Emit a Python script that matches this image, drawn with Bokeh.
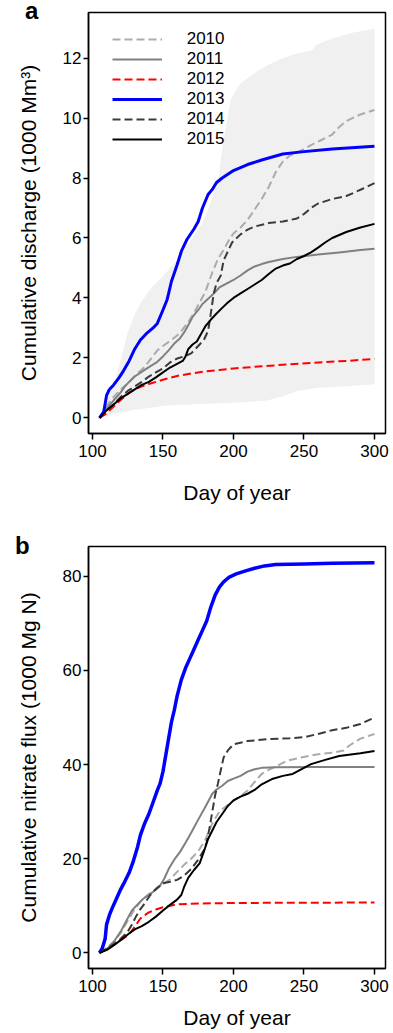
from bokeh.plotting import figure
from bokeh.models import Range1d, FixedTicker, Legend, LegendItem, Title
from bokeh.layouts import column
from bokeh.embed import file_html
from bokeh.resources import INLINE

FONT = "Liberation Sans"
YEARS = ["2010", "2011", "2012", "2013", "2014", "2015"]
X_TICKS = [100, 150, 200, 250, 300]
QA_TICKS = [0, 2, 4, 6, 8, 10, 12]
NB_TICKS = [0, 20, 40, 60, 80]

# ---- Panel a: cumulative discharge (1000 Mm3) ----
env_day = [105, 108, 112, 116, 120, 125, 130, 135, 142, 150, 155, 160, 165, 170, 175, 178, 182, 186, 189.5, 191, 193, 196, 198, 202, 205, 215, 224, 235, 245, 256, 259, 270, 285, 300]
env_upper = [0, 0.4, 0.85, 1.2, 1.95, 2.85, 3.45, 3.9, 4.35, 4.72, 5.0, 5.26, 5.6, 5.95, 6.3, 6.5, 6.95, 7.5, 8.0, 8.6, 9.25, 10.1, 10.6, 10.95, 11.15, 11.5, 11.76, 12.0, 12.15, 12.26, 12.45, 12.65, 12.85, 12.98]
env_lower = [0, 0.05, 0.1, 0.15, 0.18, 0.22, 0.27, 0.3, 0.35, 0.4, 0.42, 0.43, 0.44, 0.45, 0.46, 0.47, 0.47, 0.48, 0.48, 0.49, 0.49, 0.5, 0.5, 0.51, 0.52, 0.55, 0.58, 0.72, 0.9, 0.98, 1.0, 1.03, 1.07, 1.12]

q_day_2010 = [105, 110, 115, 120, 125, 130, 137, 142, 146, 150, 156, 160, 164, 168, 172, 176, 180, 185, 189, 193, 197, 200, 205, 210, 215, 220, 225, 230, 235, 240, 248, 255, 262, 270, 275, 280, 290, 300]
q_2010 = [0, 0.4, 0.7, 0.95, 1.15, 1.4, 1.7, 2.0, 2.25, 2.4, 2.6, 2.75, 2.95, 3.2, 3.5, 3.85, 4.2, 4.85, 5.3, 5.6, 5.95, 6.15, 6.35, 6.6, 6.95, 7.3, 7.7, 8.2, 8.55, 8.75, 8.92, 9.1, 9.26, 9.45, 9.7, 9.9, 10.12, 10.27]

q_day_2011 = [105, 110, 115, 120, 123, 126, 130, 137, 142, 146, 150, 154, 158, 162, 165, 168, 171, 175, 178, 182, 186, 190, 195, 200, 205, 210, 215, 220, 225, 235, 245, 260, 275, 290, 300]
q_2011 = [0, 0.3, 0.58, 0.85, 1.05, 1.2, 1.38, 1.6, 1.75, 1.87, 2.05, 2.25, 2.48, 2.65, 2.85, 3.1, 3.37, 3.6, 3.8, 3.97, 4.15, 4.35, 4.48, 4.6, 4.75, 4.92, 5.05, 5.13, 5.2, 5.3, 5.37, 5.45, 5.52, 5.6, 5.64]

q_day_2012 = [105, 110, 115, 120, 125, 130, 135, 140, 150, 160, 170, 180, 190, 200, 220, 240, 260, 280, 300]
q_2012 = [0, 0.15, 0.38, 0.6, 0.8, 0.95, 1.05, 1.13, 1.27, 1.4, 1.48, 1.55, 1.6, 1.65, 1.72, 1.79, 1.85, 1.9, 1.97]

q_day_2013 = [105, 108, 110, 112, 115, 119, 122, 126, 130, 134, 138, 143, 146, 150, 153, 156, 160, 163, 167, 172, 175, 178, 182, 185, 188, 192, 200, 210, 220, 235, 250, 270, 300]
q_2013 = [0, 0.2, 0.75, 0.95, 1.1, 1.35, 1.57, 1.9, 2.3, 2.6, 2.8, 3.0, 3.15, 3.6, 3.95, 4.55, 5.1, 5.55, 5.95, 6.3, 6.55, 7.0, 7.45, 7.62, 7.85, 8.0, 8.25, 8.45, 8.6, 8.8, 8.88, 8.97, 9.06]

q_day_2014 = [105, 110, 115, 120, 125, 130, 135, 140, 145, 150, 155, 160, 165, 170, 175, 179, 182, 184, 186, 188, 191, 193, 196, 199, 205, 210, 215, 225, 235, 245, 250, 255, 260, 270, 280, 285, 292, 300]
q_2014 = [0, 0.25, 0.45, 0.7, 0.9, 1.05, 1.2, 1.38, 1.52, 1.65, 1.85, 1.98, 2.05, 2.15, 2.4, 2.6, 2.9, 3.5, 4.15, 4.5, 4.75, 5.25, 5.55, 5.85, 6.12, 6.28, 6.38, 6.5, 6.55, 6.65, 6.8, 7.0, 7.15, 7.3, 7.4, 7.5, 7.65, 7.83]

q_day_2015 = [105, 110, 115, 120, 125, 130, 135, 140, 145, 150, 155, 160, 164, 166, 168, 171, 174, 177, 180, 184, 188, 192, 196, 200, 205, 210, 215, 220, 225, 230, 235, 240, 245, 250, 255, 260, 265, 270, 280, 290, 300]
q_2015 = [0, 0.25, 0.45, 0.65, 0.8, 0.95, 1.1, 1.2, 1.35, 1.52, 1.68, 1.8, 1.9, 2.05, 2.3, 2.45, 2.55, 2.8, 3.05, 3.28, 3.48, 3.67, 3.85, 4.0, 4.15, 4.3, 4.45, 4.6, 4.8, 4.98, 5.08, 5.15, 5.3, 5.4, 5.52, 5.68, 5.85, 6.0, 6.2, 6.35, 6.47]

# ---- Panel b: cumulative nitrate flux (1000 Mg N) ----
n_day_2010 = [105, 110, 115, 120, 125, 130, 135, 140, 145, 150, 155, 160, 165, 170, 175, 180, 185, 190, 195, 200, 205, 210, 215, 220, 225, 230, 238, 248, 260, 270, 278, 282, 290, 300]
n_2010 = [0, 1.0, 2.3, 4.2, 6.8, 9.3, 11.2, 12.5, 13.5, 14.6, 15.6, 17.2, 18.7, 20.0, 21.6, 24.0, 27.5, 30.0, 31.2, 32.3, 33.3, 34.5, 36.3, 38.0, 38.9, 39.6, 40.8, 41.5, 42.2, 42.5, 43.0, 44.0, 45.5, 46.5]

n_day_2011 = [105, 110, 115, 120, 124, 128, 132, 136, 140, 145, 148, 151, 154, 158, 162, 166, 170, 175, 180, 185, 188, 192, 196, 200, 205, 210, 215, 220, 230, 260, 300]
n_2011 = [0, 0.8, 2.3, 4.5, 6.8, 9.0, 10.3, 11.5, 12.3, 13.4, 14.3, 15.8, 17.8, 19.8, 21.4, 23.4, 25.5, 28.3, 31.0, 33.8, 34.7, 35.5, 36.5, 37.0, 37.6, 38.5, 39.0, 39.3, 39.45, 39.5, 39.5]

n_day_2012 = [105, 110, 115, 120, 125, 128, 131, 134, 137, 140, 145, 150, 155, 160, 170, 200, 250, 300]
n_2012 = [0, 0.8, 1.7, 2.7, 3.7, 4.7, 6.0, 7.3, 8.0, 8.6, 9.2, 9.7, 10.0, 10.3, 10.45, 10.6, 10.65, 10.7]

n_day_2013 = [105, 107, 109, 110, 112, 114, 117, 120, 123, 126, 129, 132, 134, 137, 140, 143, 146, 148, 150, 152, 154, 156, 158, 160, 163, 166, 169, 172, 175, 178, 181, 184, 187, 190, 193, 197, 202, 208, 215, 222, 230, 250, 270, 300]
n_2013 = [0, 1.0, 3.0, 6.0, 8.0, 9.5, 11.5, 13.5, 15.2, 17.0, 19.5, 22.5, 25.0, 27.5, 29.5, 32.0, 34.5, 36.0, 38.5, 42.0, 45.5, 49.0, 51.5, 54.5, 58.0, 60.5, 62.5, 64.5, 66.5, 68.5, 70.5, 73.5, 76.0, 77.7, 78.8, 79.8, 80.5, 81.1, 81.7, 82.2, 82.5, 82.6, 82.75, 82.85]

n_day_2014 = [105, 110, 115, 120, 125, 128, 131, 134, 137, 141, 145, 150, 155, 160, 165, 170, 175, 179, 181, 183, 185, 187, 189, 191, 193, 196, 200, 210, 225, 240, 250, 260, 270, 280, 290, 300]
n_2014 = [0, 0.8, 1.8, 3.0, 4.5, 6.0, 7.8, 9.3, 10.5, 12.3, 13.6, 14.8, 15.1, 15.5, 16.4, 17.8, 19.8, 21.8, 23.5, 26.5, 30.0, 33.5, 36.0, 38.8, 41.5, 43.0, 44.3, 45.0, 45.4, 45.6, 45.8, 46.5, 47.3, 47.8, 48.6, 50.0]

n_day_2015 = [105, 110, 115, 120, 125, 130, 135, 140, 145, 150, 155, 160, 163, 165, 168, 172, 176, 179, 182, 185, 188, 192, 196, 200, 205, 210, 215, 220, 228, 235, 242, 248, 255, 265, 275, 290, 300]
n_2015 = [0, 0.6, 1.6, 2.7, 3.9, 5.0, 5.7, 6.6, 7.7, 9.0, 10.2, 11.3, 12.3, 14.0, 16.0, 17.6, 19.0, 21.5, 24.2, 26.0, 27.8, 29.5, 31.2, 32.4, 33.2, 33.8, 34.6, 35.8, 37.0, 37.6, 38.0, 39.0, 40.1, 41.0, 41.8, 42.4, 42.9]

STYLE = {
    "2010": dict(line_color="#ABABAB", line_dash="8 4", line_width=2),
    "2011": dict(line_color="#808080", line_dash="solid", line_width=2),
    "2012": dict(line_color="#FF0000", line_dash="8 4", line_width=2),
    "2013": dict(line_color="#0000FF", line_dash="solid", line_width=3),
    "2014": dict(line_color="#3A3A3A", line_dash="8 4", line_width=2),
    "2015": dict(line_color="#000000", line_dash="solid", line_width=2),
}


def style_axes(p, yticks, ylabel):
    p.xaxis.ticker = FixedTicker(ticks=X_TICKS)
    p.yaxis.ticker = FixedTicker(ticks=yticks)
    p.xaxis.axis_label = "Day of year"
    p.yaxis.axis_label = ylabel
    for ax in (p.xaxis, p.yaxis):
        ax.axis_line_color = "black"
        ax.axis_line_width = 1.5
        ax.major_tick_line_color = "black"
        ax.major_tick_line_width = 1.5
        ax.major_tick_in = 0
        ax.minor_tick_line_color = None
        ax.major_label_text_font = FONT
        ax.major_label_text_font_size = "17px"
        ax.major_label_text_color = "black"
        ax.axis_label_text_font = FONT
        ax.axis_label_text_font_size = "21px"
        ax.axis_label_text_font_style = "normal"
        ax.axis_label_text_color = "black"
    p.xaxis.major_tick_out = 6
    p.yaxis.major_tick_out = 5
    p.xaxis.major_label_standoff = 5
    p.yaxis.major_label_standoff = 2
    p.yaxis.axis_label_standoff = 20
    p.grid.visible = False
    p.outline_line_color = "black"
    p.outline_line_width = 1.5
    p.background_fill_color = "white"
    p.border_fill_color = "white"


def panel_letter(text, offset, standoff):
    return Title(text=text, align="left", vertical_align="top", offset=offset, standoff=standoff,
                 text_font=FONT, text_font_style="bold", text_font_size="24px", text_color="black")


# Panel a
pa = figure(width=393, height=530, output_backend="svg", toolbar_location=None,
            x_range=Range1d(97.2, 307.8), y_range=Range1d(-0.52, 13.52),
            min_border_left=88, min_border_right=8, min_border_top=12, min_border_bottom=97)
style_axes(pa, QA_TICKS, "Cumulative discharge (1000 Mm\u00b3)")
pa.xaxis.axis_label_standoff = 21
pa.varea(x=env_day, y1=env_lower, y2=env_upper, fill_color="#F0F0F0")

qa_data = {
    "2010": (q_day_2010, q_2010), "2011": (q_day_2011, q_2011), "2012": (q_day_2012, q_2012),
    "2013": (q_day_2013, q_2013), "2014": (q_day_2014, q_2014), "2015": (q_day_2015, q_2015),
}
items = []
for yr in YEARS:
    xs, ys = qa_data[yr]
    r = pa.line(xs, ys, line_join="round", **STYLE[yr])
    items.append(LegendItem(label=yr, renderers=[r]))

legend = Legend(items=items, location=(23.7, 284), padding=0, spacing=0, margin=0,
                glyph_width=50, glyph_height=20, label_height=20, label_standoff=25,
                border_line_color=None, background_fill_alpha=0,
                label_text_font=FONT, label_text_font_size="17px", label_text_color="black")
pa.add_layout(legend)
pa.add_layout(panel_letter("a", -63.5, -26), "above")

# Panel b
pb = figure(width=393, height=503, output_backend="svg", toolbar_location=None,
            x_range=Range1d(97.2, 307.8), y_range=Range1d(-3.32, 86.32),
            min_border_left=88, min_border_right=8, min_border_top=16, min_border_bottom=65)
style_axes(pb, NB_TICKS, "Cumulative nitrate flux (1000 Mg N)")
pb.xaxis.axis_label_standoff = 11

nb_data = {
    "2010": (n_day_2010, n_2010), "2011": (n_day_2011, n_2011), "2012": (n_day_2012, n_2012),
    "2013": (n_day_2013, n_2013), "2014": (n_day_2014, n_2014), "2015": (n_day_2015, n_2015),
}
for yr in YEARS:
    xs, ys = nb_data[yr]
    st = dict(STYLE[yr])
    if yr == "2013":
        st["line_width"] = 3.5
    pb.line(xs, ys, line_join="round", **st)

pb.add_layout(panel_letter("b", -73.5, -29), "above")

layout = column(pa, pb, spacing=0)
open("out.html", "w").write(file_html(layout, INLINE))
